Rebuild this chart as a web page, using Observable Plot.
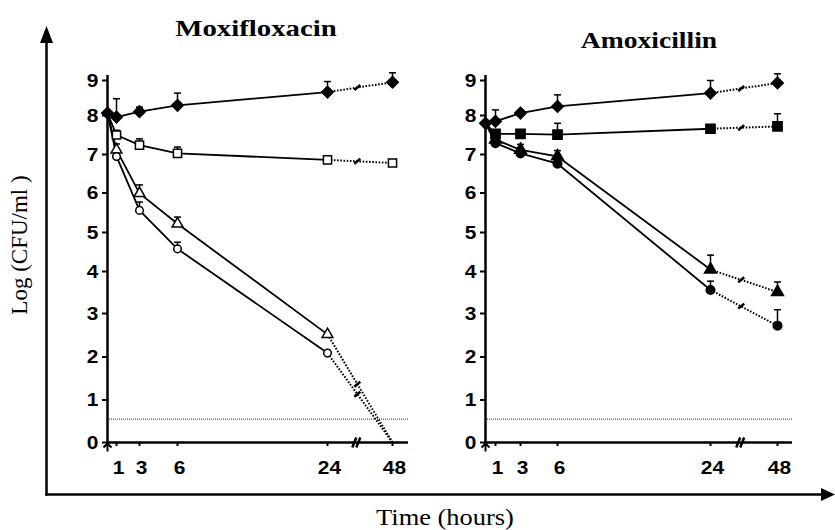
<!DOCTYPE html>
<html><head><meta charset="utf-8">
<script src="https://cdn.jsdelivr.net/npm/d3@7"></script>
<script src="https://cdn.jsdelivr.net/npm/@observablehq/plot@0.6"></script>
<style>
body{margin:0;background:#fff;}
#chart{position:relative;width:835px;height:530px;overflow:hidden;background:#fff;}
#chart svg{position:absolute;left:0;top:0;}
</style></head><body><div id="chart"></div>
<script>
// ---- data ----
const times = [0, 1, 3, 6, 24, 48];
const xTickLabels = [1, 3, 6, 24, 48];
const yTickLabels = [0, 1, 2, 3, 4, 5, 6, 7, 8, 9];
const panelTitles = ["Moxifloxacin", "Amoxicillin"];
const seriesNames = ["diamond", "square", "triangle", "circle"];
const detectionLimit = 0.55;
const breakTime = 35;

const moxiDiamond     = [8.07, 7.96, 8.11, 8.29, 8.67, 8.95];
const moxiDiamondErr  = [0, 0.52, 0.13, 0.35, 0.30, 0.27];
const moxiSquare      = [8.07, 7.50, 7.24, 7.03, 6.86, 6.78];
const moxiSquareErr   = [0, 0.12, 0.16, 0.16, 0, 0];
const moxiTriangle    = [8.07, 7.12, 5.99, 5.22, 2.52, 0];
const moxiTriangleErr = [0, 0.15, 0.22, 0.17, 0, 0];
const moxiCircle      = [8.07, 6.95, 5.56, 4.58, 2.09, 0];
const moxiCircleErr   = [0, 0.10, 0.21, 0.17, 0, 0];

const amoxDiamond     = [7.80, 7.85, 8.07, 8.26, 8.64, 8.93];
const amoxDiamondErr  = [0, 0.31, 0.08, 0.33, 0.36, 0.26];
const amoxSquare      = [7.80, 7.53, 7.53, 7.51, 7.66, 7.72];
const amoxSquareErr   = [0, 0, 0.05, 0.29, 0, 0.33];
const amoxTriangle    = [7.80, 7.38, 7.12, 6.95, 4.05, 3.51];
const amoxTriangleErr = [0, 0, 0.14, 0.15, 0.37, 0.24];
const amoxCircle      = [7.80, 7.29, 7.03, 6.76, 3.56, 2.72];
const amoxCircleErr   = [0, 0, 0, 0, 0.21, 0.37];

// ---- scales (piecewise, following the printed axes) ----
const xDomain = [0, 1, 3, 6, 24, 48, 54];
const xEnd = 54;
const yTop = 9.14;
const yDomain = [0, 1, 2, 3, 4, 5, 6, 7, 8, 9];
const yRange = [442, 399.5, 356.5, 313, 271, 232, 192.5, 154, 115, 80];
const leftXRange = [107, 116, 139, 177, 327, 392, 408];
const rightXRange = [485, 495, 520, 557, 710, 777, 792];

// ---- custom symbols ----
const capSymbol = {draw(c){ c.moveTo(-3.5,0); c.lineTo(3.5,0); }};
const slashSymbol = {draw(c){ c.moveTo(-3,2.5); c.lineTo(3,-2.5); }};
const axisBreakSymbol = {draw(c){ c.moveTo(-5,5); c.lineTo(-1,-5); c.moveTo(-1,5); c.lineTo(3,-5); }};
const upArrowSymbol = {draw(c){ c.moveTo(0,1); c.lineTo(0,9); c.moveTo(-4,5); c.lineTo(0,1); c.lineTo(4,5); }};

function build(values, errs) {
  const rows = [];
  values.forEach((vals, s) => vals.forEach((v, i) =>
    rows.push({series: seriesNames[s], t: times[i], v, err: errs[s][i]})));
  return rows;
}

function panel(values, errs, xRange, axisX, filled) {
  const rows = build(values, errs);
  const solid = rows.filter(d => d.t <= 24);
  const dotted = rows.filter(d => d.t >= 24);
  const errRows = rows.filter(d => d.err > 0);
  const breaks = values.map((vals, s) => {
    const v24 = vals[4], v48 = vals[5];
    return {series: seriesNames[s], t: breakTime, v: v24 + (v48 - v24) * (breakTime - 24) / 24};
  });
  const marker = (name, symbol, r) => Plot.dot(
    rows.filter(d => d.series === name && d.v > 0 && (d.t > 0 || name === "diamond")),
    {x: "t", y: "v", symbol, r, fill: (filled || name === "diamond") ? "black" : "white",
     stroke: "black", strokeWidth: 1.5});
  const tickFont = {fontSize: 19, fontWeight: "bold"};
  const svg = Plot.plot({
    width: 835, height: 530,
    marginLeft: axisX, marginRight: 835 - xRange[6], marginTop: 75, marginBottom: 88,
    style: {background: "transparent", fontFamily: "'Liberation Sans', Arial, sans-serif", color: "black", overflow: "visible"},
    x: {type: "linear", domain: xDomain, range: xRange},
    y: {type: "linear", domain: yDomain, range: yRange},
    marks: [
      Plot.ruleY([detectionLimit], {x1: 0, x2: xEnd, stroke: "#555", strokeWidth: 1.2, strokeDasharray: "1,1"}),
      Plot.line(solid, {x: "t", y: "v", z: "series", stroke: "black", strokeWidth: 1.8}),
      Plot.line(dotted, {x: "t", y: "v", z: "series", stroke: "black", strokeWidth: 2, strokeDasharray: "1.6,1.6", strokeLinecap: "butt"}),
      Plot.dot(breaks, {x: "t", y: "v", symbol: slashSymbol, stroke: "black", fill: "none", strokeWidth: 2.5}),
      Plot.ruleX(errRows, {x: "t", y1: "v", y2: d => d.v + d.err, stroke: "black", strokeWidth: 1.5}),
      Plot.dot(errRows, {x: "t", y: d => d.v + d.err, symbol: capSymbol, stroke: "black", fill: "none", strokeWidth: 1.5}),
      marker("square", "square", filled ? 5.2 : 4.6),
      marker("triangle", "triangle", filled ? 4.4 : 4.0),
      marker("circle", "circle", filled ? 4.3 : 3.8),
      marker("diamond", "diamond2", 5.2),
      Plot.ruleY([0], {x1: 0, x2: xEnd, stroke: "black", strokeWidth: 2.5}),
      Plot.ruleX([0], {y1: 0, y2: yTop, stroke: "black", strokeWidth: 2.5}),
      Plot.dot([{t: breakTime, v: 0}], {x: "t", y: "v", symbol: axisBreakSymbol, stroke: "black", fill: "none", strokeWidth: 2.5}),
      Plot.dot([{t: 0, v: 0}], {x: "t", y: "v", symbol: upArrowSymbol, stroke: "black", fill: "none", strokeWidth: 2}),
      Plot.axisY({ticks: yTickLabels, tickFormat: "d", tickSize: 5, tickPadding: 4, strokeWidth: 2, label: null, ...tickFont}),
      Plot.axisX({ticks: xTickLabels, tickFormat: () => "", tickSize: 4, strokeWidth: 2, label: null}),
      Plot.axisX({ticks: xTickLabels, tickFormat: "d", tickSize: 0, tickPadding: 18, dx: 2, label: null, ...tickFont})
    ]
  });
  svg.querySelectorAll('g[aria-label$="tick label"] text').forEach(t => {
    const tr = t.getAttribute("transform") || "";
    t.setAttribute("transform", tr + " scale(1.1,1)");
  });
  return svg;
}

const chart = document.getElementById("chart");

// outer frame, titles and axis labels
const ns = "http://www.w3.org/2000/svg";
const frame = d3.create("svg").attr("xmlns", ns).attr("width", 835).attr("height", 530);
frame.append("line").attr("x1", 46.5).attr("y1", 495.5).attr("x2", 46.5).attr("y2", 40)
  .attr("stroke", "black").attr("stroke-width", 2.5);
frame.append("polygon").attr("points", "46.5,26 40,43 53,43").attr("fill", "black");
frame.append("line").attr("x1", 45.3).attr("y1", 494.5).attr("x2", 823).attr("y2", 494.5)
  .attr("stroke", "black").attr("stroke-width", 2.5);
frame.append("polygon").attr("points", "835,494.5 821,488 821,501").attr("fill", "black");
const serif = "'Liberation Serif', 'Times New Roman', serif";
frame.append("text").text(panelTitles[0]).attr("transform", "translate(256,36) scale(1.2,1)")
  .attr("text-anchor", "middle").attr("font-family", serif).attr("font-weight", "bold").attr("font-size", 24);
frame.append("text").text(panelTitles[1]).attr("transform", "translate(649,48) scale(1.2,1)")
  .attr("text-anchor", "middle").attr("font-family", serif).attr("font-weight", "bold").attr("font-size", 23);
frame.append("text").text("Log (CFU/ml )").attr("transform", "translate(27,245) rotate(-90)")
  .attr("text-anchor", "middle").attr("font-family", serif).attr("font-size", 23);
frame.append("text").text("Time (hours)").attr("transform", "translate(445,525) scale(1.15,1)")
  .attr("text-anchor", "middle").attr("font-family", serif).attr("font-size", 23);
chart.appendChild(frame.node());

chart.appendChild(panel([moxiDiamond, moxiSquare, moxiTriangle, moxiCircle],
  [moxiDiamondErr, moxiSquareErr, moxiTriangleErr, moxiCircleErr], leftXRange, 107, false));
chart.appendChild(panel([amoxDiamond, amoxSquare, amoxTriangle, amoxCircle],
  [amoxDiamondErr, amoxSquareErr, amoxTriangleErr, amoxCircleErr], rightXRange, 485, true));
</script></body></html>
